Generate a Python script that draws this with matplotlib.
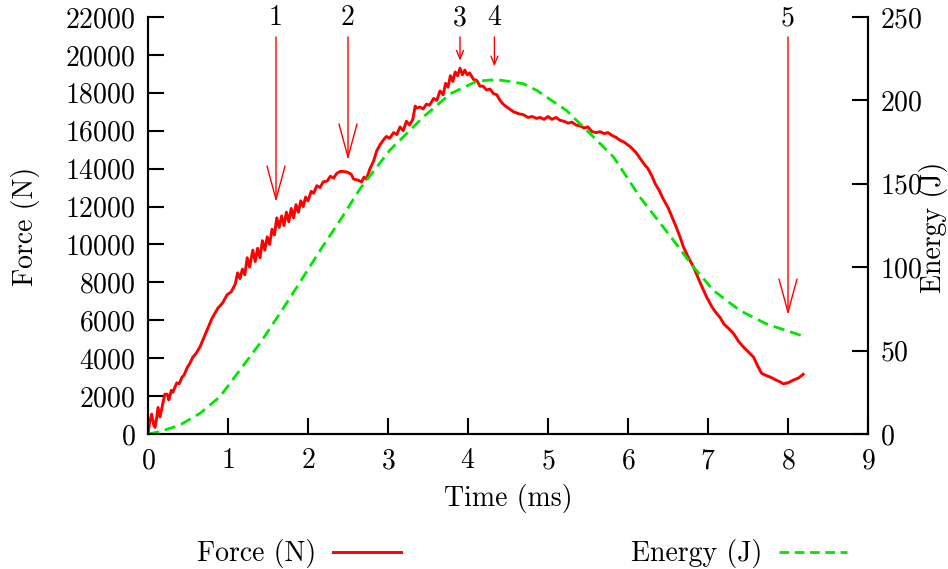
import matplotlib
matplotlib.use("Agg")
import matplotlib.pyplot as plt
from matplotlib.lines import Line2D

plt.rcParams['font.family'] = ['cmr10', 'DejaVu Serif']
plt.rcParams['axes.formatter.use_mathtext'] = True
plt.rcParams['mathtext.fontset'] = 'cm'

# ---- data ----
time_force = [0, 0.02, 0.046, 0.07, 0.088, 0.11, 0.125, 0.15, 0.17, 0.19, 0.21, 0.24, 0.26, 0.275,
              0.29, 0.31, 0.34, 0.36, 0.39, 0.425, 0.45, 0.49, 0.52, 0.56, 0.6, 0.65, 0.7, 0.74, 0.8,
              0.875, 0.93, 0.99, 1.04, 1.09, 1.12, 1.15, 1.18, 1.21, 1.24, 1.27, 1.31, 1.34, 1.37,
              1.4, 1.43, 1.46, 1.49, 1.52, 1.55, 1.58, 1.61, 1.64, 1.67, 1.7, 1.73, 1.76, 1.79, 1.82,
              1.85, 1.88, 1.91, 1.94, 1.97, 2.0, 2.04, 2.07, 2.11, 2.15, 2.19, 2.24, 2.28, 2.32, 2.36,
              2.4, 2.45, 2.5, 2.54, 2.57, 2.62, 2.67, 2.7, 2.73, 2.775, 2.82, 2.86, 2.9, 2.94, 2.98,
              3.02, 3.07, 3.11, 3.15, 3.19, 3.23, 3.27, 3.31, 3.34, 3.36, 3.4, 3.44, 3.48, 3.52, 3.57,
              3.61, 3.65, 3.69, 3.72, 3.75, 3.78, 3.81, 3.84, 3.87, 3.9, 3.93, 3.96, 3.99, 4.02, 4.07,
              4.11, 4.15, 4.19, 4.23, 4.275, 4.32, 4.36, 4.4, 4.44, 4.5, 4.57, 4.63, 4.69, 4.75, 4.8,
              4.86, 4.9, 4.95, 5.0, 5.05, 5.1, 5.15, 5.2, 5.25, 5.3, 5.35, 5.4, 5.45, 5.5, 5.55, 5.6,
              5.65, 5.7, 5.75, 5.8, 5.85, 5.9, 5.95, 6.03, 6.1, 6.15, 6.2, 6.25, 6.3, 6.34, 6.39, 6.44,
              6.5, 6.55, 6.6, 6.65, 6.69, 6.75, 6.82, 6.9, 6.98, 7.05, 7.1, 7.15, 7.2, 7.25, 7.32,
              7.38, 7.44, 7.5, 7.57, 7.62, 7.67, 7.72, 7.78, 7.85, 7.9, 7.94, 8.0, 8.07, 8.13, 8.19]
force = [0, 600, 1050, 500, 350, 900, 1400, 900, 1300, 1700, 2100, 2100, 1800, 2000,
         2300, 2200, 2500, 2700, 2650, 3000, 3100, 3500, 3700, 4050, 4250, 4600, 5100, 5500, 6100,
         6650, 6900, 7350, 7500, 7900, 8500, 8200, 8700, 8400, 9300, 8800, 9700, 9100, 9800,
         9300, 10200, 9700, 10400, 10000, 10800, 10500, 11400, 10900, 11500, 11000, 11700, 11200, 11900, 11400,
         12100, 11700, 12300, 12000, 12500, 12300, 12800, 12700, 13100, 13000, 13300, 13350, 13600, 13500, 13750,
         13850, 13850, 13800, 13700, 13450, 13400, 13300, 13550, 13450, 14000, 14400, 14950, 15250, 15500, 15700,
         15600, 15900, 15800, 16200, 16000, 16500, 16300, 16600, 17300, 17200, 17250, 17150, 17400, 17350, 17700,
         17600, 18100, 17900, 18500, 18300, 18900, 18600, 19100, 18900, 19300, 18950, 19200, 18950, 19050, 18700,
         18650, 18350, 18350, 18150, 18200, 17950, 17900, 17600, 17400, 17200, 17000, 16900, 16850, 16700, 16750,
         16650, 16700, 16600, 16750, 16600, 16700, 16550, 16500, 16400, 16450, 16300, 16250, 16150, 16200, 15950, 15900,
         15950, 15850, 15900, 15750, 15650, 15500, 15400, 15150, 14850, 14550, 14250, 14000, 13600, 13200, 12850, 12400,
         11950, 11450, 10950, 10400, 9900, 9350, 8800, 8000, 7250, 6700, 6400, 6150, 5800, 5600, 5300,
         4900, 4600, 4350, 4050, 3600, 3200, 3100, 3000, 2850, 2750, 2650, 2700, 2850, 2950, 3150]

time_energy = [0, 0.15, 0.4, 0.65, 0.9, 1.15, 1.4, 1.65, 1.86, 2.15, 2.4, 2.65, 3.02, 3.44, 3.78,
               4.11, 4.36, 4.69, 4.86, 5.23, 5.57, 5.82, 6.15, 6.57, 6.82, 7.07, 7.4, 7.73, 8.17]
energy = [0, 1.4, 5.4, 12.4, 22.4, 38.4, 54.4, 72.4, 88, 110, 128, 147, 170, 190, 204,
          211.5, 212.5, 210, 206, 194, 178, 166, 142, 116, 100, 86, 74, 66, 59]

arrow_labels = ['1', '2', '3', '4', '5']
arrow_x = [1.6, 2.5, 3.9, 4.33, 8.0]
arrow_tip = [12240, 14460, 19700, 19400, 6280]

RED = '#ff0000'
GREEN = '#00e600'

fig = plt.figure(figsize=(9.48, 5.69), dpi=100)
ax = fig.add_axes([148/948, 1-434/569, 720/948, 417/569])
ax2 = ax.twinx()

ax.plot(time_force, force, color=RED, lw=2.1, zorder=3)
ax2.plot(time_energy, energy, color=GREEN, lw=2.0, dashes=(4.0, 2.2), zorder=2)

ax.set_xlim(0, 9)
ax.set_ylim(0, 22000)
ax2.set_ylim(0, 250)
ax.set_xticks(range(0, 10))
ax.set_yticks(range(0, 22001, 2000))
ax2.set_yticks(range(0, 251, 50))

fs = 20
for a in (ax, ax2):
    a.spines['top'].set_visible(False)
    for s in a.spines.values():
        s.set_linewidth(1.5)
    a.tick_params(direction='in', length=11.5, width=1.5, labelsize=fs, pad=9)
ax.tick_params(axis='x', pad=10)
ax.tick_params(right=False)
ax2.tick_params(left=False)

ax.set_xlabel('Time (ms)', fontsize=fs, labelpad=7)
fig.text(25/948, 1-226/569, 'Force (N)', rotation=90, fontsize=fs, ha='center', va='center')
fig.text(933/948, 1-227/569, 'Energy (J)', rotation=90, fontsize=fs, ha='center', va='center')

# arrows and labels
y_top = 20950
for lab, x, tip in zip(arrow_labels, arrow_x, arrow_tip):
    long = (y_top - tip) > 3000
    hl, hw = (24, 6.5) if long else (6, 2.5)
    ax.annotate('', xy=(x, tip), xytext=(x, y_top),
                arrowprops=dict(arrowstyle=f'->,head_length={hl},head_width={hw}',
                                color=RED, lw=1.0, shrinkA=0, shrinkB=0, mutation_scale=1))
    ax.text(x, 21950, lab, fontsize=fs, ha='center', va='center', clip_on=False)

# legend
h1 = Line2D([], [], color=RED, lw=2.1)
h2 = Line2D([], [], color=GREEN, lw=2.0, dashes=(3.5, 2.0))
fig.legend([h1, h2], ['Force (N)', 'Energy (J)'], loc='center', ncol=2,
           bbox_to_anchor=(522/948, 1-554/569), frameon=False, fontsize=fs,
           markerfirst=False, handlelength=2.45, handletextpad=0.6, columnspacing=8.3)

fig.savefig('out.png', dpi=100)
